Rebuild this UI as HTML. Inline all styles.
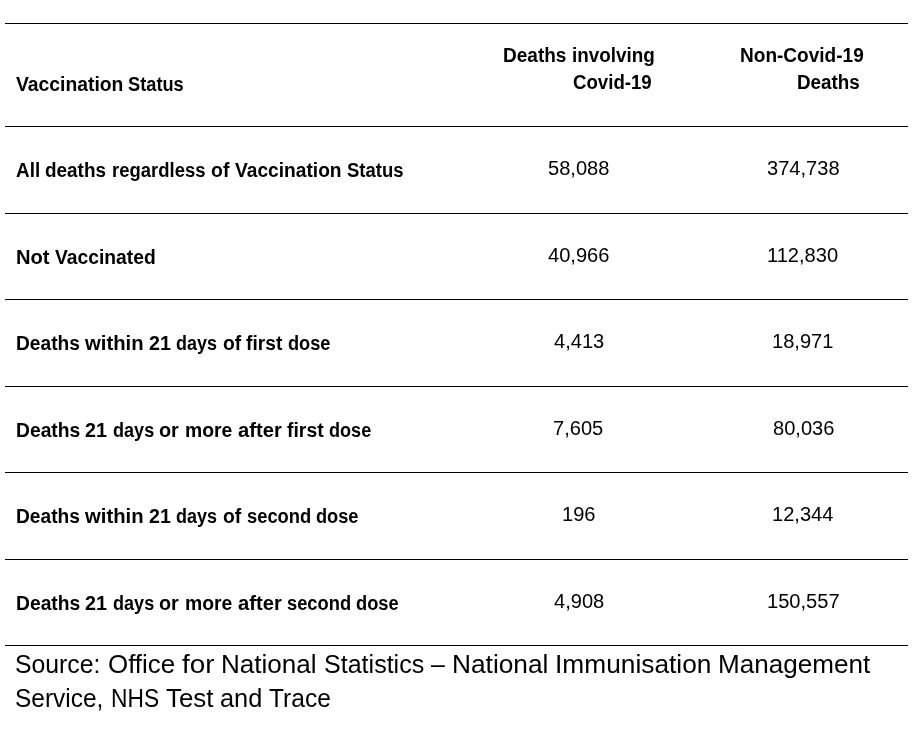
<!DOCTYPE html>
<html><head><meta charset="utf-8"><title>Deaths by vaccination status</title><style>html,body{margin:0;padding:0;background:#fff;width:914px;height:737px;overflow:hidden}
body{position:relative;will-change:transform;font-family:"Liberation Sans",sans-serif;color:#000}
.t{position:absolute;white-space:nowrap;transform-origin:0 0;line-height:30px;height:30px}
.b{font-weight:bold}
.l{position:absolute;left:5px;width:903px;height:1px;background:#000}</style></head><body>
<div class="l" style="top:23px"></div>
<div class="l" style="top:126px"></div>
<div class="l" style="top:213px"></div>
<div class="l" style="top:299px"></div>
<div class="l" style="top:386px"></div>
<div class="l" style="top:472px"></div>
<div class="l" style="top:559px"></div>
<div class="l" style="top:645px"></div>
<div class="t b" style="left:15.60px;top:69px;font-size:19.5px;transform:scaleX(0.9908)">Vaccination</div>
<div class="t b" style="left:128.40px;top:69px;font-size:19.5px;transform:scaleX(0.9356)">Status</div>
<div class="t b" style="left:502.62px;top:40px;font-size:19.5px;transform:scaleX(0.9757)">Deaths</div>
<div class="t b" style="left:571.53px;top:40px;font-size:19.5px;transform:scaleX(0.9679)">involving</div>
<div class="t b" style="left:573.40px;top:67px;font-size:19.5px;transform:scaleX(0.9561)">Covid-19</div>
<div class="t b" style="left:740.42px;top:40px;font-size:19.5px;transform:scaleX(0.9762)">Non-Covid-19</div>
<div class="t b" style="left:797.33px;top:67px;font-size:19.5px;transform:scaleX(0.9656)">Deaths</div>
<div class="t b" style="left:15.70px;top:155px;font-size:19.5px;transform:scaleX(0.9690)">All</div>
<div class="t b" style="left:45.30px;top:155px;font-size:19.5px;transform:scaleX(0.9697)">deaths</div>
<div class="t b" style="left:111.75px;top:155px;font-size:19.5px;transform:scaleX(0.9476)">regardless</div>
<div class="t b" style="left:210.70px;top:155px;font-size:19.5px;transform:scaleX(0.9985)">of</div>
<div class="t b" style="left:234.50px;top:155px;font-size:19.5px;transform:scaleX(0.9834)">Vaccination</div>
<div class="t b" style="left:346.50px;top:155px;font-size:19.5px;transform:scaleX(0.9475)">Status</div>
<div class="t b" style="left:15.67px;top:242px;font-size:19.5px;transform:scaleX(1.0337)">Not</div>
<div class="t b" style="left:54.70px;top:242px;font-size:19.5px;transform:scaleX(0.9881)">Vaccinated</div>
<div class="t b" style="left:15.72px;top:328px;font-size:19.5px;transform:scaleX(0.9835)">Deaths</div>
<div class="t b" style="left:85.10px;top:328px;font-size:19.5px;transform:scaleX(1.0402)">within</div>
<div class="t b" style="left:149.10px;top:328px;font-size:19.5px;transform:scaleX(1.0080)">21</div>
<div class="t b" style="left:176.40px;top:328px;font-size:19.5px;transform:scaleX(0.9210)">days</div>
<div class="t b" style="left:222.80px;top:328px;font-size:19.5px;transform:scaleX(0.9880)">of</div>
<div class="t b" style="left:246.40px;top:328px;font-size:19.5px;transform:scaleX(0.9847)">first</div>
<div class="t b" style="left:288.10px;top:328px;font-size:19.5px;transform:scaleX(0.9333)">dose</div>
<div class="t b" style="left:15.71px;top:415px;font-size:19.5px;transform:scaleX(0.9882)">Deaths</div>
<div class="t b" style="left:85.40px;top:415px;font-size:19.5px;transform:scaleX(1.0125)">21</div>
<div class="t b" style="left:112.80px;top:415px;font-size:19.5px;transform:scaleX(0.9267)">days</div>
<div class="t b" style="left:159.45px;top:415px;font-size:19.5px;transform:scaleX(1.0164)">or</div>
<div class="t b" style="left:184.71px;top:415px;font-size:19.5px;transform:scaleX(0.9933)">more</div>
<div class="t b" style="left:237.50px;top:415px;font-size:19.5px;transform:scaleX(1.0348)">after</div>
<div class="t b" style="left:286.70px;top:415px;font-size:19.5px;transform:scaleX(0.9955)">first</div>
<div class="t b" style="left:328.80px;top:415px;font-size:19.5px;transform:scaleX(0.9267)">dose</div>
<div class="t b" style="left:15.72px;top:501px;font-size:19.5px;transform:scaleX(0.9835)">Deaths</div>
<div class="t b" style="left:85.10px;top:501px;font-size:19.5px;transform:scaleX(1.0402)">within</div>
<div class="t b" style="left:149.10px;top:501px;font-size:19.5px;transform:scaleX(1.0080)">21</div>
<div class="t b" style="left:176.40px;top:501px;font-size:19.5px;transform:scaleX(0.9210)">days</div>
<div class="t b" style="left:222.80px;top:501px;font-size:19.5px;transform:scaleX(0.9933)">of</div>
<div class="t b" style="left:246.50px;top:501px;font-size:19.5px;transform:scaleX(0.9403)">second</div>
<div class="t b" style="left:316.20px;top:501px;font-size:19.5px;transform:scaleX(0.9333)">dose</div>
<div class="t b" style="left:15.71px;top:588px;font-size:19.5px;transform:scaleX(0.9882)">Deaths</div>
<div class="t b" style="left:85.40px;top:588px;font-size:19.5px;transform:scaleX(1.0125)">21</div>
<div class="t b" style="left:112.80px;top:588px;font-size:19.5px;transform:scaleX(0.9267)">days</div>
<div class="t b" style="left:159.45px;top:588px;font-size:19.5px;transform:scaleX(1.0164)">or</div>
<div class="t b" style="left:184.71px;top:588px;font-size:19.5px;transform:scaleX(0.9933)">more</div>
<div class="t b" style="left:237.50px;top:588px;font-size:19.5px;transform:scaleX(1.0371)">after</div>
<div class="t b" style="left:286.80px;top:588px;font-size:19.5px;transform:scaleX(0.9388)">second</div>
<div class="t b" style="left:356.40px;top:588px;font-size:19.5px;transform:scaleX(0.9378)">dose</div>
<div class="t" style="left:15.41px;top:649px;font-size:25.0px;transform:scaleX(0.9913)">Source:</div>
<div class="t" style="left:107.77px;top:649px;font-size:25.0px;transform:scaleX(1.0350)">Office</div>
<div class="t" style="left:181.80px;top:649px;font-size:25.0px;transform:scaleX(1.1124)">for</div>
<div class="t" style="left:221.11px;top:649px;font-size:25.0px;transform:scaleX(1.0428)">National</div>
<div class="t" style="left:323.70px;top:649px;font-size:25.0px;transform:scaleX(1.0022)">Statistics</div>
<div class="t" style="left:430.90px;top:649px;font-size:25.0px;transform:scaleX(0.9958)">–</div>
<div class="t" style="left:451.60px;top:649px;font-size:25.0px;transform:scaleX(1.0507)">National</div>
<div class="t" style="left:554.80px;top:649px;font-size:25.0px;transform:scaleX(1.0522)">Immunisation</div>
<div class="t" style="left:718.06px;top:649px;font-size:25.0px;transform:scaleX(1.0434)">Management</div>
<div class="t" style="left:15.42px;top:683px;font-size:25.0px;transform:scaleX(0.9774)">Service,</div>
<div class="t" style="left:110.88px;top:683px;font-size:25.0px;transform:scaleX(0.9111)">NHS</div>
<div class="t" style="left:165.55px;top:683px;font-size:25.0px;transform:scaleX(1.0356)">Test</div>
<div class="t" style="left:219.99px;top:683px;font-size:25.0px;transform:scaleX(1.0149)">and</div>
<div class="t" style="left:268.80px;top:683px;font-size:25.0px;transform:scaleX(0.9823)">Trace</div>
<div class="t" style="left:548.32px;top:153px;font-size:19.5px;transform:scaleX(1.0300)">58,088</div>
<div class="t" style="left:767.15px;top:153px;font-size:19.5px;transform:scaleX(1.0300)">374,738</div>
<div class="t" style="left:548.32px;top:240px;font-size:19.5px;transform:scaleX(1.0300)">40,966</div>
<div class="t" style="left:767.15px;top:240px;font-size:19.5px;transform:scaleX(1.0300)">112,830</div>
<div class="t" style="left:553.98px;top:326px;font-size:19.5px;transform:scaleX(1.0300)">4,413</div>
<div class="t" style="left:772.30px;top:326px;font-size:19.5px;transform:scaleX(1.0300)">18,971</div>
<div class="t" style="left:553.47px;top:413px;font-size:19.5px;transform:scaleX(1.0300)">7,605</div>
<div class="t" style="left:772.82px;top:413px;font-size:19.5px;transform:scaleX(1.0300)">80,036</div>
<div class="t" style="left:561.71px;top:499px;font-size:19.5px;transform:scaleX(1.0300)">196</div>
<div class="t" style="left:772.30px;top:499px;font-size:19.5px;transform:scaleX(1.0300)">12,344</div>
<div class="t" style="left:553.98px;top:586px;font-size:19.5px;transform:scaleX(1.0300)">4,908</div>
<div class="t" style="left:766.63px;top:586px;font-size:19.5px;transform:scaleX(1.0300)">150,557</div>
</body></html>
